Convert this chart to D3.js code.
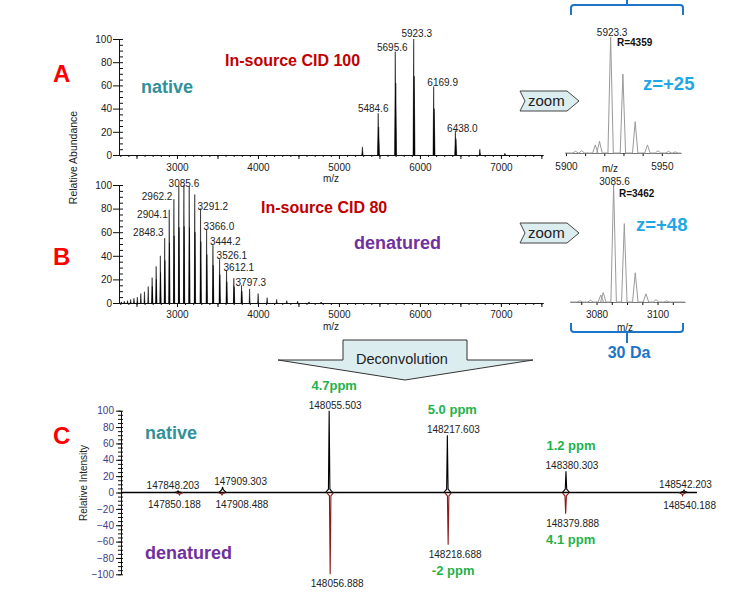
<!DOCTYPE html>
<html>
<head>
<meta charset="utf-8">
<script src="https://cdn.jsdelivr.net/npm/d3@7"></script>
<style>
  body { margin: 0; background: #fff; }
  svg { display: block; font-family: Arial, "Liberation Sans", sans-serif; }
</style>
</head>
<body>
<div id="chart"></div>
<script>
// ---------- data ----------
// A: native, in-source CID 100 (m/z, relative abundance)
var peaksA_mz = [5290, 5484.6, 5695.6, 5923.3, 6169.9, 6438.0, 6740, 7050];
var peaksA_ab = [7, 36, 89, 100, 59, 21, 5, 1.5];
var glycoA_mz = [5490.9, 5702.0, 5929.7, 6176.5, 6444.9];
var glycoA_ab = [24, 62, 68, 40, 14];
var labelsA = [5484.6, 5695.6, 5923.3, 6169.9, 6438.0];

// B: denatured, in-source CID 80
var peaksB_mz = [2313, 2350, 2389, 2428, 2468.6, 2510.4, 2553.6, 2598.4, 2644.8, 2692.9, 2742.7, 2794.5,
                 2848.3, 2904.1, 2962.2, 3022.5, 3085.6, 3151.1, 3219.6, 3291.2, 3366.0, 3444.2, 3526.1,
                 3612.1, 3702.4, 3797.3, 3897.0, 4002.0, 4113.0, 4231.0, 4356.0, 4490.0, 4630, 4780];
var peaksB_ab = [1, 1.5, 2, 3, 4, 5, 8, 9.6, 14, 21.5, 31, 40,
                 55, 79, 88, 99, 100, 99, 92, 80, 62.5, 49, 37,
                 28, 21, 15, 12, 8, 4.5, 3, 2, 1.5, 1, 0.8];
var glycoB_mz = [2695.8, 2745.7, 2797.6, 2851.4, 2907.3, 2965.4, 3025.8, 3089.0, 3154.5, 3223.1,
                 3294.8, 3369.7, 3448.0, 3530.0, 3616.1, 3706.5, 3801.5];
var glycoB_ab = [14, 20, 26, 36, 51, 57, 64, 65, 64, 60, 52, 41, 32, 24, 18, 14, 10];
var labelsB = [2848.3, 2904.1, 2962.2, 3085.6, 3291.2, 3366.0, 3444.2, 3526.1, 3612.1, 3797.3];

// zoom insets
var zoomA_mz = [5905.0, 5908.2, 5915.3, 5917.5, 5923.3, 5929.7, 5936.1, 5942.5, 5948.0, 5953.5, 5957.0];
var zoomA_ab = [1.5, 2, 7, 10, 100, 68, 27, 7, 2, 1.5, 1];
var zoomB_mz = [3074.5, 3078.0, 3081.4, 3082.2, 3085.6, 3089.1, 3092.7, 3096.2, 3099.5, 3103.0];
var zoomB_ab = [1, 1.5, 6, 8, 100, 67, 25, 7, 2, 1];

// C: deconvoluted masses (native up, denatured down)
var massNative = [147848.203, 147909.303, 148055.503, 148217.603, 148380.303, 148542.203];
var intNative  = [2, 7, 100, 70, 26, 3];
var ppmNative  = ["", "", "4.7ppm", "5.0 ppm", "1.2 ppm", ""];
var massDenat  = [147850.188, 147908.488, 148056.888, 148218.688, 148379.888, 148540.188];
var intDenat   = [-3, -3, -100, -64, -26, -4];
var ppmDenat   = ["", "", "", "-2 ppm", "4.1 ppm", ""];

// ---------- label layout (px nudges) ----------
var labelDxA = [-5, -3, 3, 9, 7];
var labelDyA = [-1, -1, -2, -1, 1.5];
var labelAnchorB = ["end", "end", "end", "middle", "start", "start", "start", "start", "start", "start"];
var labelDxB = [-1, -1.5, -1.5, 0, -3, -3, -3, -3, -3, -6];
var labelDyB = [-2, 8, 1, 1.5, 1, 1, 0, 0, 1.5, 1];
var labelDxNative = [-5, 18, 6, 6, 6, 1.5];
var labelDxDenat = [-5, 20, 7, 7, 7, 7];

var FONT = 'Arial, "Liberation Sans", sans-serif';
var RED = "#ff0000", DARKRED = "#c00000", TEAL = "#31909a", PURPLE = "#7030a0",
    GREEN = "#1fb24a", SKY = "#1ea7e6", BLUE = "#1c75c8", NAVY = "#3c3c8e";

var svg = d3.select("#chart").append("svg")
  .attr("width", 743).attr("height", 593);

// ---------- scales ----------
var xA = d3.scaleLinear().domain([2284, 7520]).range([119, 543]);
var yA = d3.scaleLinear().domain([0, 100]).range([155, 39]);
var yB = d3.scaleLinear().domain([0, 100]).range([303, 185]);
var xZA = d3.scaleLinear().domain([5899.5, 5960]).range([565, 681]);
var yZA = d3.scaleLinear().domain([0, 100]).range([153, 37]);
var xZB = d3.scaleLinear().domain([3071.3, 3109]).range([570, 685]);
var yZB = d3.scaleLinear().domain([0, 100]).range([302, 185]);
var xC = d3.scaleLinear().domain([147770, 148560]).range([121, 697]);
var yC = d3.scaleLinear().domain([-100, 100]).range([574.3, 410.7]);

function styleAxis(g, color) {
  g.attr("font-family", FONT).attr("font-size", 10);
  g.selectAll("text").attr("fill", color || "#222");
  g.selectAll("line").attr("stroke", "#111");
  g.select(".domain").attr("stroke", "#111");
}

// ---------- A / B spectra ----------
function massAxes(yScale, labelPad) {
  svg.append("g").attr("transform", `translate(0,${yScale(0)})`)
    .call(d3.axisBottom(xA).tickValues(d3.range(2300, 7521, 100)).tickSize(2).tickSizeOuter(0).tickFormat(""))
    .call(styleAxis);
  svg.append("g").attr("transform", `translate(0,${yScale(0)})`)
    .call(d3.axisBottom(xA).tickValues(d3.range(2500, 7521, 500)).tickSize(4).tickSizeOuter(0)
      .tickPadding(labelPad).tickFormat(d => d % 1000 ? "" : d))
    .call(styleAxis);
  svg.append("g").attr("transform", `translate(${xA.range()[0]},0)`)
    .call(d3.axisLeft(yScale).tickValues(d3.range(0, 101, 20)).tickSize(6).tickSizeOuter(0).tickPadding(1))
    .call(styleAxis);
  svg.append("g").attr("transform", `translate(${xA.range()[0]},0)`)
    .call(d3.axisRight(yScale).tickValues(d3.range(0, 101, 5)).tickSize(4).tickSizeOuter(0).tickFormat(""))
    .call(styleAxis);
}

function sticks(mzs, abs, yScale, halfW, color) {
  var tri = d3.line().x(d => xA(d[0])).y(d => yScale(d[1]));
  svg.append("g").selectAll("path")
    .data(mzs.map((m, i) => [m, abs[i]]))
    .join("path")
    .attr("d", d => tri([[d[0] - halfW, 0], [d[0], d[1]], [d[0] + halfW, 0]]) + "Z")
    .attr("fill", color).attr("stroke", color).attr("stroke-width", 0.5);
}

massAxes(yA, 5);
sticks(glycoA_mz, glycoA_ab, yA, 10, "#000");
sticks(peaksA_mz, peaksA_ab, yA, 8, "#000");
svg.append("g").selectAll("text").data(labelsA).join("text")
  .attr("x", (d, i) => xA(d) + labelDxA[i])
  .attr("y", (d, i) => yA(peaksA_ab[peaksA_mz.indexOf(d)]) + labelDyA[i])
  .attr("text-anchor", "middle").attr("font-size", 10).attr("fill", "#222")
  .text(d => d.toFixed(1));
svg.append("text").attr("x", 331).attr("y", 182).attr("text-anchor", "middle")
  .attr("font-size", 10).attr("fill", "#222").text("m/z");

massAxes(yB, 4);
sticks(glycoB_mz, glycoB_ab, yB, 7, "#000");
sticks(peaksB_mz, peaksB_ab, yB, 6, "#000");
svg.append("g").selectAll("text").data(labelsB).join("text")
  .attr("x", (d, i) => xA(d) + labelDxB[i])
  .attr("y", (d, i) => yB(peaksB_ab[peaksB_mz.indexOf(d)]) + labelDyB[i])
  .attr("text-anchor", (d, i) => labelAnchorB[i]).attr("font-size", 10).attr("fill", "#222")
  .text(d => d.toFixed(1));
svg.append("text").attr("x", 331).attr("y", 330).attr("text-anchor", "middle")
  .attr("font-size", 10).attr("fill", "#222").text("m/z");

svg.append("text").attr("transform", "translate(77,157.5) rotate(-90)")
  .attr("text-anchor", "middle").attr("font-size", 10.5).attr("fill", "#222").text("Relative Abundance");

// ---------- zoom insets ----------
function inset(xs, ys, mzs, abs, halfW, tickStep, labelStep, labelPad) {
  var pts = [[xs.domain()[0], 0]];
  mzs.forEach((m, i) => { pts.push([m - halfW, 0], [m, abs[i]], [m + halfW, 0]); });
  pts.push([xs.domain()[1], 0]);
  var y0 = ys(0);
  var first = Math.ceil(xs.domain()[0] / tickStep) * tickStep;
  svg.append("g").attr("transform", `translate(0,${y0})`)
    .call(d3.axisBottom(xs).tickValues(d3.range(first, xs.domain()[1], tickStep)).tickSize(3)
      .tickSizeOuter(0).tickPadding(labelPad).tickFormat(d => d % labelStep ? "" : d))
    .call(styleAxis)
    .call(g => g.select(".domain").attr("stroke", "#777"));
  svg.append("path")
    .attr("d", d3.line().x(d => xs(d[0])).y(d => ys(d[1]))(pts))
    .attr("fill", "none").attr("stroke", "#9a9a9a").attr("stroke-width", 1);
}
inset(xZA, yZA, zoomA_mz, zoomA_ab, 1.4, 10, 50, 7);
inset(xZB, yZB, zoomB_mz, zoomB_ab, 0.9, 5, 20, 6);

svg.append("text").attr("x", xZA(5923.3) + 1.5).attr("y", 36).attr("text-anchor", "middle")
  .attr("font-size", 10).attr("fill", "#222").text("5923.3");
svg.append("text").attr("x", 617).attr("y", 46).attr("font-size", 10).attr("font-weight", "bold")
  .attr("fill", "#111").text("R=4359");
svg.append("text").attr("x", 610).attr("y", 172).attr("text-anchor", "middle")
  .attr("font-size", 10).attr("fill", "#222").text("m/z");
svg.append("text").attr("x", xZB(3085.6) + 1).attr("y", 185).attr("text-anchor", "middle")
  .attr("font-size", 10).attr("fill", "#222").text("3085.6");
svg.append("text").attr("x", 619).attr("y", 197).attr("font-size", 10).attr("font-weight", "bold")
  .attr("fill", "#111").text("R=3462");
svg.append("text").attr("x", 625).attr("y", 331).attr("text-anchor", "middle")
  .attr("font-size", 10).attr("fill", "#222").text("m/z");

svg.append("text").attr("x", 643).attr("y", 90).attr("font-size", 18.5).attr("font-weight", "bold")
  .attr("fill", SKY).text("z=+25");
svg.append("text").attr("x", 636).attr("y", 231).attr("font-size", 18.5).attr("font-weight", "bold")
  .attr("fill", SKY).text("z=+48");

// brackets
svg.append("path").attr("d", "M571,15 L571,8 Q571,5 574,5 L680,5 Q683,5 683,8 L683,15 M627,5 L627,0")
  .attr("fill", "none").attr("stroke", BLUE).attr("stroke-width", 2);
svg.append("path").attr("d", "M571,323 L571,329 Q571,332 574,332 L680,332 Q683,332 683,329 L683,323 M627,332 L627,343")
  .attr("fill", "none").attr("stroke", BLUE).attr("stroke-width", 2);
svg.append("text").attr("x", 629).attr("y", 358).attr("text-anchor", "middle")
  .attr("font-size", 16).attr("font-weight", "bold").attr("fill", BLUE).text("30 Da");

// zoom arrows
[91, 223].forEach(function (top) {
  svg.append("path")
    .attr("d", `M520,${top} L567,${top} L579,${top + 10} L567,${top + 20} L520,${top + 20} L525,${top + 10} Z`)
    .attr("fill", "#dcedf0").attr("stroke", "#444").attr("stroke-width", 1);
  svg.append("text").attr("x", 528).attr("y", top + 15).attr("font-size", 15)
    .attr("fill", "#222").text("zoom");
});

// deconvolution arrow
svg.append("path")
  .attr("d", "M343,360 L343,340 L467,340 L467,360 L533,360 L405,380 L278,360 Z")
  .attr("fill", "#dcedf0").attr("stroke", "#333").attr("stroke-width", 1);
svg.append("text").attr("x", 356).attr("y", 364).attr("font-size", 14.5)
  .attr("fill", "#222").text("Deconvolution");

// ---------- C: deconvoluted ----------
svg.append("g").attr("transform", `translate(${xC.range()[0]},0)`)
  .call(d3.axisLeft(yC).tickValues(d3.range(-100, 101, 20)).tickSize(5).tickSizeOuter(0).tickPadding(2))
  .call(g => styleAxis(g, NAVY));
svg.append("g").attr("transform", `translate(${xC.range()[0]},0)`)
  .call(d3.axisLeft(yC).tickValues(d3.range(-100, 101, 5)).tickSize(3).tickSizeOuter(0).tickFormat(""))
  .call(styleAxis);
svg.append("g").attr("transform", `translate(${xC.range()[0]},0)`)
  .call(d3.axisRight(yC).tickValues(d3.range(-100, 101, 5)).tickSize(2).tickSizeOuter(0).tickFormat(""))
  .call(styleAxis);

svg.append("line")
  .attr("x1", xC.range()[0]).attr("x2", xC.range()[1])
  .attr("y1", yC(0)).attr("y2", yC(0))
  .attr("stroke", "#000").attr("stroke-width", 1.5);

function decoPeaks(masses, ints, color) {
  var shape = d3.line().x(d => xC(d[0])).y(d => yC(d[1]));
  svg.append("g").selectAll("path")
    .data(masses.map((m, i) => [m, ints[i]]))
    .join("path")
    .attr("d", d => shape([[d[0] - 5, 0], [d[0] - 1, Math.sign(d[1]) * Math.min(4, Math.abs(d[1]) * 0.5)], [d[0], d[1]],
                           [d[0] + 1, Math.sign(d[1]) * Math.min(4, Math.abs(d[1]) * 0.5)], [d[0] + 5, 0]]))
    .attr("fill", "none").attr("stroke", color).attr("stroke-width", 1.1);
}
decoPeaks(massDenat, intDenat, "#8b1a1a");
decoPeaks(massNative, intNative, "#000");

svg.append("g").selectAll("text").data(massNative).join("text")
  .attr("x", (d, i) => xC(d) + labelDxNative[i])
  .attr("y", (d, i) => yC(intNative[i]) - 2)
  .attr("text-anchor", "middle").attr("font-size", 10).attr("fill", "#222")
  .text(d => d.toFixed(3));
svg.append("g").selectAll("text").data(massDenat).join("text")
  .attr("x", (d, i) => xC(d) + labelDxDenat[i])
  .attr("y", (d, i) => yC(intDenat[i]) + 13)
  .attr("text-anchor", "middle").attr("font-size", 10).attr("fill", "#222")
  .text(d => d.toFixed(3));
svg.append("g").selectAll("text").data(ppmNative).join("text")
  .attr("x", (d, i) => xC(massNative[i]) + labelDxNative[i] - 1)
  .attr("y", (d, i) => yC(intNative[i]) - 21)
  .attr("text-anchor", "middle").attr("font-size", 13).attr("font-weight", "bold").attr("fill", GREEN)
  .text(d => d);
svg.append("g").selectAll("text").data(ppmDenat).join("text")
  .attr("x", (d, i) => xC(massDenat[i]) + labelDxDenat[i] - 2)
  .attr("y", (d, i) => yC(intDenat[i]) + 30)
  .attr("text-anchor", "middle").attr("font-size", 13).attr("font-weight", "bold").attr("fill", GREEN)
  .text(d => d);

svg.append("text").attr("transform", "translate(87,483) rotate(-90)")
  .attr("text-anchor", "middle").attr("font-size", 10).attr("fill", "#222").text("Relative Intensity");

// ---------- panel captions ----------
function caption(x, y, txt, size, color) {
  svg.append("text").attr("x", x).attr("y", y).attr("font-size", size)
    .attr("font-weight", "bold").attr("fill", color).text(txt);
}
caption(53, 82, "A", 24, RED);
caption(53, 265, "B", 24, RED);
caption(53, 444, "C", 24, RED);
caption(225, 66, "In-source CID 100", 16, DARKRED);
caption(261, 213, "In-source CID 80", 16, DARKRED);
caption(141, 93, "native", 18, TEAL);
caption(354, 249, "denatured", 18, PURPLE);
caption(145, 439, "native", 18, TEAL);
caption(145, 559, "denatured", 18, PURPLE);
</script>
</body>
</html>
